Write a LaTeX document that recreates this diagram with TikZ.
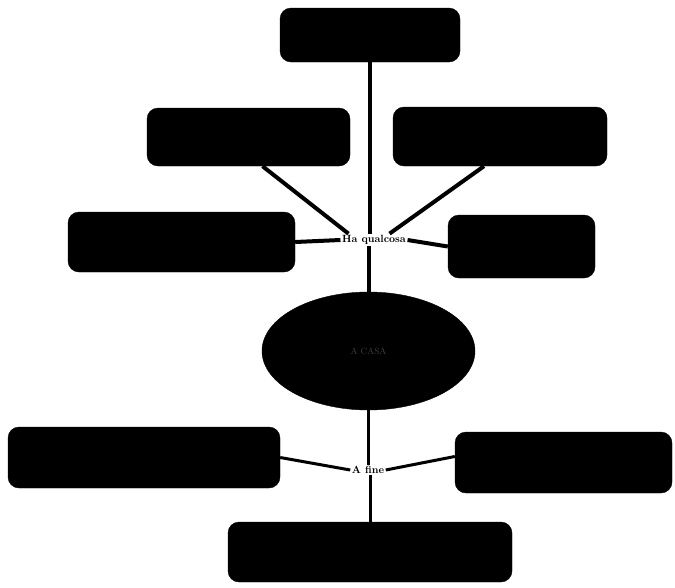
\documentclass[tikz,border=0pt]{standalone}
\usetikzlibrary{shapes.geometric,calc}
\begin{document}
\begin{tikzpicture}[x=1pt,y=-1pt,
  blackbox/.style={draw=black,fill=black,rounded corners=11pt,inner sep=0pt},
  lbl/.style={font=\fontsize{10.5}{12}\selectfont\bfseries,inner sep=1.5pt,fill=white},
  conn/.style={draw=black,line width=4pt},
  thinconn/.style={draw=black,line width=3pt}]
\useasboundingbox (0,0) rectangle (675,587);
\node[blackbox,minimum width=180pt,minimum height=54pt] (top) at (370,35) {};
\node[blackbox,minimum width=203pt,minimum height=58pt] (ul) at (248.5,137) {};
\node[blackbox,minimum width=214pt,minimum height=59pt] (ur) at (500,136.5) {};
\node[blackbox,minimum width=227pt,minimum height=60pt] (lm) at (181.5,242) {};
\node[blackbox,minimum width=147pt,minimum height=63pt] (rm) at (521.5,246.5) {};
\node[lbl] (hq) at (374,240) {Ha qualcosa};
\node[ellipse,draw=black,fill=black,minimum width=213pt,minimum height=118pt,inner sep=0pt,
  font=\fontsize{9}{10}\selectfont,text=black!75] (ell) at (368.5,351) {A CASA};
\node[blackbox,minimum width=272pt,minimum height=61pt] (bl) at (144,457.5) {};
\node[blackbox,minimum width=217pt,minimum height=61pt] (br) at (563.5,462.5) {};
\node[lbl] (af) at (368,470) {A fine};
\node[blackbox,minimum width=284pt,minimum height=60pt] (bot) at (370,552) {};

\draw[conn] (top.south) -- (top.south |- hq.north);
\draw[conn] ($(ul.south)+(14,0)$) -- ($(hq.north west)+(8,0)$);
\draw[conn] ($(ur.south)+(-16,0)$) -- ($(hq.north east)+(-18,0)$);
\draw[conn] (lm.east) -- (hq.west);
\draw[conn] (hq.east) -- (rm.west);
\draw[conn] (ell.north |- hq.south) -- (ell.north);
\draw[thinconn] (ell.south) -- (ell.south |- af.north);
\draw[thinconn] (bl.east) -- (af.west);
\draw[thinconn] (af.east) -- ($(br.west)+(0,-6)$);
\draw[thinconn] (af.south -| bot.north) -- (bot.north);
\end{tikzpicture}
\end{document}
